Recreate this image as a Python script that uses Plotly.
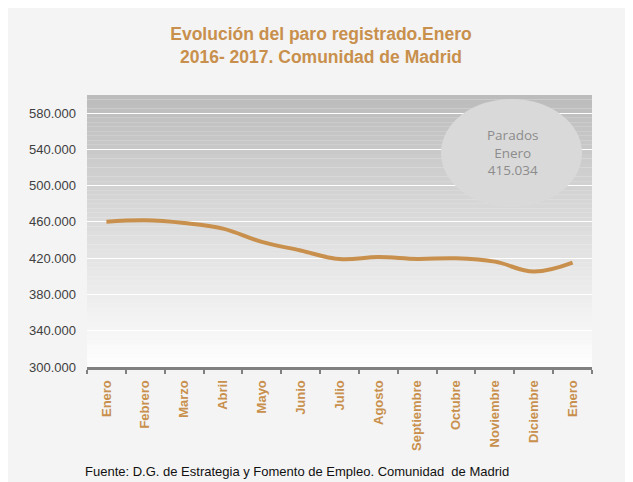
import plotly.graph_objects as go

months = ["Enero", "Febrero", "Marzo", "Abril", "Mayo", "Junio", "Julio",
          "Agosto", "Septiembre", "Octubre", "Noviembre", "Diciembre", "Enero"]
parados = [460200, 461800, 458800, 452600, 438000, 428500, 419000,
           421200, 419200, 419900, 416200, 405200, 415034]
y_ticks = [300000, 340000, 380000, 420000, 460000, 500000, 540000, 580000]

x_idx = list(range(len(months)))
tan = "#C8904C"

# page body has an 8px margin: work in figure pixels = window pixels - 8
OFF = 8
W, H = 633 - OFF, 482 - OFF
PL, PR, PT, PB = 87 - OFF, 592 - OFF, 95 - OFF, 367 - OFF
PW, PH = PR - PL, PB - PT


def px(x):
    return (x - OFF - PL) / PW


def py(y):
    return (PB - (y - OFF)) / PH


fig = go.Figure()
fig.add_trace(go.Scatter(
    x=x_idx, y=parados, mode="lines",
    line=dict(color=tan, width=4, shape="spline", smoothing=1.1),
    hoverinfo="skip", showlegend=False))

# Gradient background of the plot area (grey at top to white at bottom)
shapes = []
n = 60
top_c, bot_c = 188, 254
for i in range(n):
    f = i / (n - 1)
    c = int(round(top_c + (bot_c - top_c) * f))
    shapes.append(dict(type="rect", xref="paper", yref="paper",
                       x0=0, x1=1, y0=1 - (i + 1) / n, y1=1 - i / n,
                       fillcolor=f"rgb({c},{c},{c})", line=dict(width=0),
                       layer="below"))
# Ellipse callout
shapes.append(dict(type="circle", xref="paper", yref="paper",
                   x0=px(441), x1=px(582), y0=py(207), y1=py(99),
                   fillcolor="#d9d9d9", line=dict(width=0), layer="above"))

fig.update_layout(
    width=W, height=H,
    margin=dict(l=PL, r=W - PR, t=PT, b=H - PB),
    paper_bgcolor="#f4f4f4",
    plot_bgcolor="rgba(0,0,0,0)",
    separators=",.",
    shapes=shapes,
    title=dict(text="Evolución del paro registrado.Enero<br>2016- 2017. Comunidad de Madrid",
               x=(321 - OFF) / W, xanchor="center", y=0.932, yanchor="top",
               font=dict(family="Liberation Sans, Arial", size=17.5, color=tan,
                         weight="bold")),
    xaxis=dict(
        range=[-0.5, 12.5], tickvals=x_idx, ticktext=months,
        tickangle=-90, ticks="", showgrid=False, zeroline=False,
        showline=True, linecolor="#808080", linewidth=3,
        ticklabelstandoff=5,
        tickfont=dict(family="Liberation Sans, Arial", size=13, color=tan,
                      weight="bold"),
        minor=dict(tick0=-0.5, dtick=1, ticks="outside", ticklen=4,
                   tickcolor="#808080", tickwidth=2, showgrid=False),
    ),
    yaxis=dict(
        range=[300000, 600000], tickvals=y_ticks, tickformat=",d",
        showgrid=True, gridcolor="#ffffff", gridwidth=1, zeroline=False,
        showline=False, ticks="", ticklabelstandoff=10,
        tickfont=dict(family="Liberation Sans, Arial", size=13, color="#404040"),
    ),
    annotations=[
        dict(text="Parados<br>Enero<br>415.034", xref="paper", yref="paper",
             x=px(512), y=py(152), showarrow=False,
             xanchor="center", yanchor="middle",
             font=dict(family="Open Sans", size=13.5, color="#8c8c8c")),
        dict(text="Fuente: D.G. de Estrategia y Fomento de Empleo. Comunidad  de Madrid",
             xref="paper", yref="paper", x=px(83), y=py(471),
             xanchor="left", yanchor="middle", showarrow=False,
             font=dict(family="Liberation Sans, Arial", size=13, color="#111111")),
    ],
)

fig.write_html("out.html")
